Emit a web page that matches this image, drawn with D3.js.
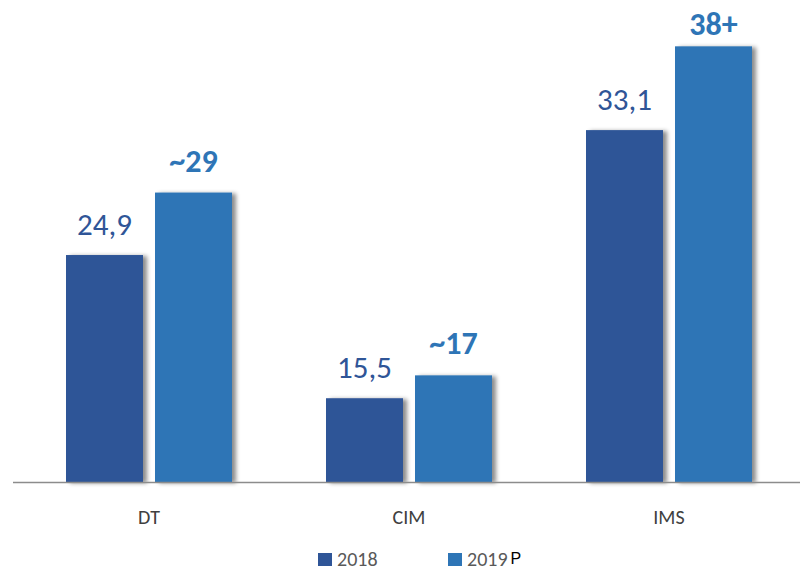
<!DOCTYPE html>
<html><head><meta charset="utf-8">
<script src="https://d3js.org/d3.v7.min.js"></script>
<style>body{margin:0;background:#fff}</style>
</head><body>
<svg id="c" width="800" height="572"></svg>
<script>
const categories = ["DT", "CIM", "IMS"];
const series = ["2018", "2019"];
const values2018 = [24.9, 15.5, 33.1];
const values2019 = [29, 17, 38.6];
const labels2018 = ["24,9", "15,5", "33,1"];
const labels2019 = ["~29", "~17", "38+"];
const colors = ["#2F5597", "#2E75B6"];

const svg = d3.select("#c");
const font = "Carlito, Lato, sans-serif";

const defs = svg.append("defs");
const f = defs.append("filter").attr("id","sh").attr("x","-20%").attr("y","-20%").attr("width","150%").attr("height","140%");
f.append("feDropShadow").attr("dx",4).attr("dy",1).attr("stdDeviation",2).attr("flood-color","#000").attr("flood-opacity",0.45);

const x0 = d3.scaleBand().domain(categories).range([19, 799]).paddingInner(0).paddingOuter(0);
const x1 = d3.scaleBand().domain(series).range([x0.bandwidth()/2 - 83, x0.bandwidth()/2 + 83]).paddingInner(12/89).paddingOuter(0);
const y = d3.scaleLinear().domain([10, 40]).range([482, 25]);

const data = [];
categories.forEach((c,i)=>{
  data.push({c, s:"2018", v:values2018[i], l:labels2018[i], k:0});
  data.push({c, s:"2019", v:values2019[i], l:labels2019[i], k:1});
});

svg.append("g").selectAll("rect").data(data).join("rect")
  .attr("x", d=>x0(d.c)+x1(d.s))
  .attr("y", d=>y(d.v))
  .attr("width", x1.bandwidth())
  .attr("height", d=>y(10)-y(d.v))
  .attr("fill", d=>colors[d.k])
  .attr("filter","url(#sh)");

svg.append("line").attr("x1",13).attr("x2",800).attr("y1",y(10)+0.5).attr("y2",y(10)+0.5)
  .attr("stroke","#8c8c8c").attr("stroke-width",1.5);

svg.append("g").selectAll("text").data(data).join("text")
  .attr("x", d=>x0(d.c)+x1(d.s)+x1.bandwidth()/2)
  .attr("y", d=>Math.max(y(d.v) - (d.k? 21:20), 35))
  .attr("text-anchor","middle")
  .attr("font-family", font)
  .attr("font-size", d=>d.k?32:31)
  .attr("font-weight", d=>d.k?"bold":"normal")
  .attr("fill", d=>colors[d.k])
  .text(d=>d.l);

svg.append("g").selectAll("text").data(categories).join("text")
  .attr("x", d=>x0(d)+x0.bandwidth()/2)
  .attr("y", 524)
  .attr("text-anchor","middle")
  .attr("font-family", font)
  .attr("font-size", 20)
  .attr("fill","#404040")
  .text(d=>d);

const legX = [318, 448];
const lg = svg.append("g");
let lastEnd = 0;
series.forEach((s,i)=>{
  lg.append("rect").attr("x",legX[i]).attr("y",553).attr("width",14).attr("height",13).attr("fill",colors[i]);
  const t = lg.append("text").attr("x",legX[i]+19).attr("y",566).attr("font-family",font).attr("font-size",20).attr("fill","#595959").text(s);
  lastEnd = legX[i]+19+t.node().getComputedTextLength();
});
lg.append("text").attr("x",lastEnd+3).attr("y",564).attr("font-family","Liberation Sans, Arial, sans-serif").attr("font-size",16).attr("fill","#000").text("P");
</script>
</body></html>
